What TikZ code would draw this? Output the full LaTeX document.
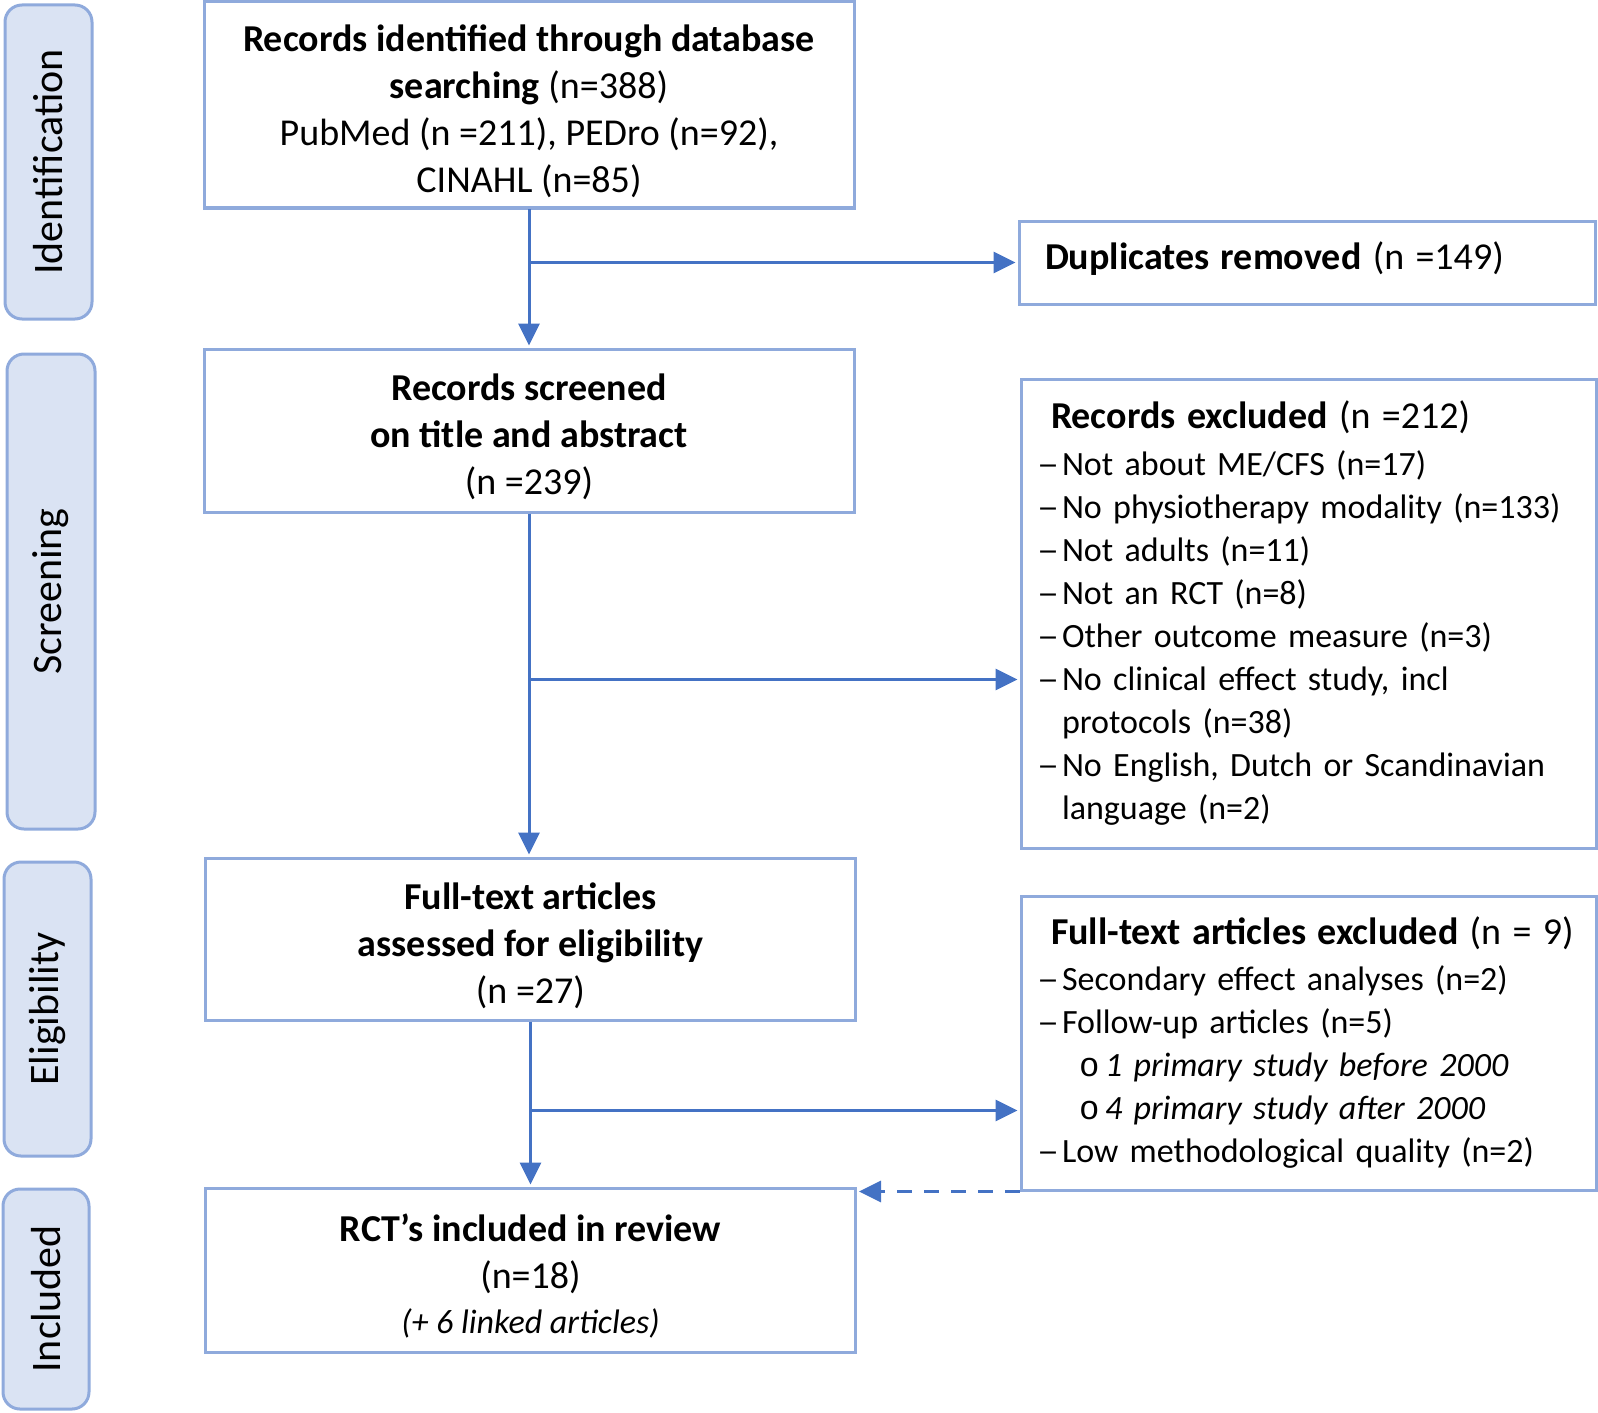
\documentclass[tikz,border=0pt]{standalone}
\usepackage{fontspec}
\usepackage{graphicx}
\setmainfont{Carlito}
\newfontfamily\bulfont{Liberation Mono}
\usetikzlibrary{arrows.meta}
\definecolor{bordc}{HTML}{8FAADC}
\definecolor{arrc}{HTML}{4472C4}
\definecolor{stagefill}{HTML}{DAE3F3}
\newcommand{\itm}{\makebox[10.5pt][l]{\hspace*{-2pt}\scalebox{1.3}[1]{–}}}
\newcommand{\subitm}{\hspace*{19pt}\makebox[13pt][l]{\bulfont o}}
\newcommand{\topgap}{\rule{0pt}{20pt}}
\begin{document}
\begin{tikzpicture}[x=0.5pt,y=-0.5pt,
	stage/.style={draw=bordc,fill=stagefill,line width=1.5pt,rounded corners=8.5pt,rotate=90,inner sep=0pt,font=\fontsize{21}{25}\selectfont},
	box/.style={draw=bordc,line width=1.5pt,minimum width=325pt,inner sep=0pt,align=center,font=\fontsize{19}{23.5}\selectfont},
	list/.style={draw=bordc,line width=1.5pt,minimum width=287.5pt,inner xsep=10pt,inner ysep=0pt,text width=267.5pt,align=left,font=\fontsize{17}{21.5}\selectfont},
	flow/.style={draw=arrc,line width=1.5pt,-{Triangle[length=11pt,width=10.5pt]},shorten >=1pt}]
	\useasboundingbox (0,0) rectangle (1598,1412);
	% stages
	\node[stage,minimum width=157pt,minimum height=43.5pt] (ident) at (48.5,162) {Identification};
	\node[stage,minimum width=237.5pt,minimum height=44pt] (scr) at (51,591.5) {Screening};
	\node[stage,minimum width=147pt,minimum height=43.5pt] (elig) at (47.5,1009) {Eligibility};
	\node[stage,minimum width=110pt,minimum height=43pt] (inc) at (46,1299) {Included};
	% main column
	\node[box,minimum height=103pt] (found) at (529,105) {\topgap\textbf{Records identified through database}\\\textbf{searching} (n=388)\\PubMed (n =211), PEDro (n=92),\\CINAHL (n=85)};
	\node[box,minimum height=81.5pt] (screen) at (529,430.5) {\topgap\textbf{Records screened}\\\textbf{on title and abstract}\\(n =239)};
	\node[box,minimum height=81pt] (full) at (530.5,939) {\topgap\textbf{Full-text articles}\\\textbf{assessed for eligibility}\\(n =27)};
	\node[box,minimum height=82pt] (incl) at (530.5,1270) {\topgap\textbf{RCT’s included in review}\\(n=18)\\[-1pt]{\fontsize{17}{21}\selectfont\itshape (+ 6 linked articles)}};
	% side boxes
	\node[list,minimum width=288pt,minimum height=41.5pt,inner xsep=13pt,text width=262pt] (dup) at (1307,262.5) {{\fontsize{19}{21.5}\selectfont\textbf{Duplicates removed} (n =149)\rule[-7pt]{0pt}{7pt}}};
	\node[list,minimum height=234.5pt] (excl) at (1308.5,613.5) {{\fontsize{19}{21.5}\selectfont\hspace*{5pt}\textbf{Records excluded} (n =212)}\\[2pt]
		\itm Not about ME/CFS (n=17)\\
		\itm No physiotherapy modality (n=133)\\
		\itm Not adults (n=11)\\
		\itm Not an RCT (n=8)\\
		\itm Other outcome measure (n=3)\\
		\itm No clinical effect study, incl\\
		\hspace*{10.5pt}protocols (n=38)\\
		\itm No English, Dutch or Scandinavian\\
		\hspace*{10.5pt}language (n=2)};
	\node[list,minimum height=147pt] (fexcl) at (1308.5,1043) {{\fontsize{19}{21.5}\selectfont\hspace*{5pt}\textbf{Full-text articles excluded} (n = 9)}\\[1.5pt]
		\itm Secondary effect analyses (n=2)\\
		\itm Follow-up articles (n=5)\\
		\subitm\textit{1 primary study before 2000}\\
		\subitm\textit{4 primary study after 2000}\\
		\itm Low methodological quality (n=2)};
	% connectors
	\draw[flow] (found.south) -- (screen.north);
	\coordinate (j1) at (found.south |- dup.west);
	\draw[flow] (j1) -- (dup.west);
	\draw[flow] (screen.south) -- (screen.south |- full.north);
	\path (screen.south) ++(0,166) coordinate (j2);
	\draw[flow] (j2) -- (j2 -| excl.west);
	\draw[flow] (full.south) -- (incl.north);
	\path (full.south) ++(0,89) coordinate (j3);
	\draw[flow] (j3) -- (j3 -| fexcl.west);
	\draw[flow,dash pattern=on 7.5pt off 6pt] (fexcl.south west) -- (fexcl.south west -| incl.east);
\end{tikzpicture}
\end{document}
